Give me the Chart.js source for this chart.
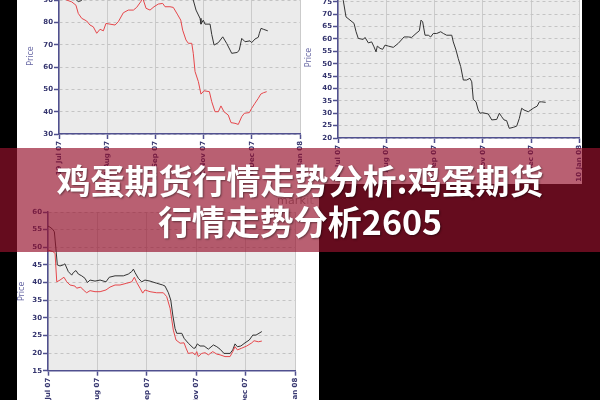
<!DOCTYPE html>
<html><head><meta charset="utf-8">
<script src="https://cdn.jsdelivr.net/npm/chart.js@4"></script>
<style>
html,body{margin:0;padding:0;width:600px;height:400px;overflow:hidden;background:#000;}
#stage{position:relative;width:600px;height:400px;overflow:hidden;background:#000;}
.panel{position:absolute;background:#fff;}
canvas{position:absolute;}
#wm{position:absolute;left:277px;top:194px;font:11px 'DejaVu Sans',sans-serif;color:#8e8e8e;letter-spacing:0.2px;}
#wm span{color:#c8c8c8;}
#banner{position:absolute;left:0;top:148px;width:600px;height:104px;background:rgba(151,18,45,0.67);display:flex;flex-direction:column;align-items:center;justify-content:center;}
.t{color:#fff;font-family:'Noto Sans CJK SC','Noto Sans CJK JP',sans-serif;font-weight:700;font-size:34px;line-height:41px;white-space:nowrap;text-shadow:1px 1px 2px rgba(0,0,0,.45);}
</style></head>
<body><div id="stage">
<div class="panel" style="left:17px;top:0;width:565px;height:184px;"></div>
<div class="panel" style="left:17px;top:184px;width:302px;height:216px;"></div>
<canvas id="c1" width="303" height="224" style="left:17px;top:-40px;"></canvas>
<canvas id="c2" width="300" height="214" style="left:300px;top:-30px;"></canvas>
<canvas id="c3" width="303" height="216" style="left:17px;top:184px;"></canvas>
<div id="wm">mark<span>it</span></div>
<div id="banner"><div class="t">鸡蛋期货行情走势分析:鸡蛋期货</div><div class="t">行情走势分析2605</div></div>
</div>
<script>
// x-axis tick positions (days since 19 Jul 07) and labels
const xTickDays = [0, 35, 70, 105, 140, 175];
const xLabels = ["19 Jul 07", "23 Aug 07", "27 Sep 07", "1 Nov 07", "6 Dec 07", "10 Jan 08"];

// Top-left panel
const tlBlackDays = [0,4,8,12,14,16,18,22,30,45,60,75,88,94,97.5,99.5,102.4,103.1,104.8,106,109.7,110.9,112.6,115.7,118.9,121.8,124.2,125.4,129.5,130.9,132.7,135.1,138.7,139.9,142.3,144.7,145.5,146.7,148.4,151.6];
const tlBlackVals = [96,94,92,90.5,89.4,89.8,91,93,95,97,99,98,96,93,90.1,85.6,81.9,79.3,81.1,79.3,79.3,74.7,69.9,71,73.6,70.6,67.7,66.2,66.6,67.7,72.9,71.4,71.8,71,72.6,73.4,75.2,77.4,77,76.3];
const tlRedDays = [0,3,5.6,9.2,12.3,14,16.5,20.1,22.5,24.9,27.4,29.8,32.2,34.1,37,40.7,43.1,46.7,50.3,54,56.4,59.3,60.8,63.2,66.1,69,72.1,75.3,77,80.6,83,85.9,88.4,89.8,92.2,93.9,96.4,97.5,98.8,101.2,103.1,105.3,109.2,110.9,113.3,115.7,117.6,119.8,122.9,124.9,127.8,130.2,132.7,134.6,138.2,139.9,142.3,144.7,146.5,148.4,150.8];
const tlRedVals = [92,91,90.1,89.3,87.8,84.1,81.9,80.7,78.9,78.1,75.2,77,76.3,79.6,79.3,78.9,80.4,84.4,85.6,85.6,86.8,89.3,91,86.4,85.6,87.1,88.3,88.6,87.1,87.1,86.8,83.8,81.1,76.6,72.2,70.7,70.7,66.2,58,53.5,47.9,49.4,49,44.5,40,40,42.6,40,38.5,35.1,34.8,34.3,37.8,39.3,39.6,41.5,43.8,46,47.9,48.5,49];

// Top-right panel
const trDays = [0,2,3.8,5.8,8.7,11.6,13.1,14.7,18.3,19.6,22,24.4,26.1,27.6,28.5,30.5,32.4,34.1,36.5,40.1,43.7,47.9,51,53.4,56.6,59,60.2,61.4,63.1,65.5,67.2,69.1,71.6,74.5,76.4,78.8,82.5,83.6,85.6,87.2,89,90.9,93.3,95.7,97,98.1,100.1,101.7,103,104.9,109,111.5,115.1,117,118.7,120.4,122.3,124.2,127.1,129.6,131.5,133.2,134.9,138,141.6,144.5,146,147.7,150.6];
const trVals = [82,79,75.6,68.9,67.6,66.3,62.9,60.2,59.8,60.6,58.4,58.8,56.8,54.8,57.1,56.2,55.8,57.5,57.1,56.6,58.2,60.8,60.8,60.6,62.2,63.3,67.6,66.9,61.5,61.5,60.8,62.2,62.2,62.9,62.2,61.5,61.5,58.8,55.5,52.1,48.8,43.4,43.4,44.1,42.7,35.6,34.6,31.3,30,30.2,29.7,27.3,27.5,30,28.6,27.3,27,23.9,24.3,24.8,27.9,32,31.3,30.6,32,32.9,34.6,34.6,34.4];

// Bottom-left panel
const blBlackDays = [0,1.4,3.3,4.5,5.7,6.6,8.5,10.8,12,14.4,16.8,17.9,19.8,21.5,23.9,26.2,27.9,29.8,33.3,36.9,41.1,43.4,47.5,53.4,56.9,59.3,60.5,61.7,64,66.4,68.7,72.3,77,81.3,82.9,85.3,87,88.4,90,91.2,94.8,96.4,99.4,103,104.2,105.8,107.7,110.6,113.6,117.2,119.6,121.9,124.7,129,130.9,132.5,134.2,136.6,139.6,142.6,145.1,147.4,151.5];
const blBlackVals = [56,55.7,55.1,54.4,49.2,45,44.7,45,45.3,43.1,42.1,42.8,43.4,42.4,41.9,41.2,40,40.7,40.4,40.7,40.2,41.5,41.9,41.9,42.4,43.1,43.8,42.8,41.2,40.2,40.7,40.4,39.8,39.3,39,37.1,35,30.8,27,25.6,25.6,24.2,22.8,21.4,21.4,22.6,22,22,21.1,22.3,21.8,21.1,19.9,19.9,20.9,22.6,21.8,22,22.9,23.7,25.1,25.1,26.1];
const blRedDays = [0,3.3,5,6.2,8.5,11.3,13.3,15.6,19.1,20.3,23.2,25,27.4,29.8,33.3,36.9,41.1,43.9,47.5,51,55.8,59.3,61.2,62.9,65.2,67.1,68.7,72.3,77,81.7,84.1,86.5,88.8,90.7,93.6,96.4,97.8,99.4,102.6,104.2,105.4,106.5,108.9,111.3,113.6,116.7,119.6,121.9,125.4,129,130.9,132.5,134.2,137.3,140.8,144.4,146,149,151.5];
const blRedVals = [49.2,48.8,48.3,40.2,40.7,41.5,40.2,39.3,39,38.4,38.7,37.9,37.1,37.7,37.4,37.4,37.9,38.7,39.3,39.3,39.8,40.2,41.5,40,38.4,37,37.9,37.4,37.1,37.1,36,32.7,26.5,23.7,22.8,22.9,21.4,19.9,20.1,19.5,20.4,19,19.9,20.1,19.5,20.4,19.7,19.5,19,19,20.4,21.8,20.9,21.4,22,22.9,23.5,23.2,23.4];

const axisColor = '#50508f';
const axisText = '#34346e';
const tickFont = {size: 7, family: 'DejaVu Sans', weight: 'bold'};

const plotBg = {id: 'plotBg', beforeDraw(chart) {
  const {ctx, chartArea: a} = chart;
  ctx.save(); ctx.fillStyle = '#ebebeb';
  ctx.fillRect(a.left, a.top, a.right - a.left, a.bottom - a.top);
  ctx.restore();
}};

function pts(days, vals) { return days.map((d, i) => ({x: d, y: vals[i]})); }
function ds(days, vals, color) {
  return {data: pts(days, vals), borderColor: color, borderWidth: 1, pointRadius: 0, tension: 0, fill: false};
}

function makeChart(id, datasets, y, xh, pad) {
  new Chart(document.getElementById(id), {
    type: 'line',
    data: {datasets},
    plugins: [plotBg],
    options: {
      responsive: false, animation: false, events: [],
      layout: {padding: pad},
      plugins: {legend: {display: false}, tooltip: {enabled: false}},
      scales: {
        x: {
          type: 'linear', min: 0, max: 175,
          afterBuildTicks: s => { s.ticks = xTickDays.map(v => ({value: v})); },
          ticks: {autoSkip: false, minRotation: 90, maxRotation: 90, padding: 2, color: axisText, font: tickFont,
                  callback: (v, i) => xLabels[i]},
          grid: {color: '#cbcbcb', lineWidth: 1, tickLength: 5, tickColor: axisColor, tickWidth: 1.5},
          border: {color: axisColor, width: 1.5},
          afterFit: s => { s.height = xh; }
        },
        y: {
          type: 'linear', min: y.min, max: y.max,
          ticks: {stepSize: y.step, padding: 1, color: axisText, font: tickFont},
          grid: {color: '#c4c4c4', lineWidth: 1, tickLength: 5, tickColor: axisColor, tickWidth: 1.5},
          border: {color: axisColor, width: 1.5, dash: [3, 3]},
          title: {display: true, text: 'Price', color: '#6868a4', font: {size: 8, family: 'DejaVu Sans'}, padding: {top: y.tp, bottom: 0}},
          afterFit: s => { s.width = y.w; }
        }
      }
    }
  });
}

makeChart('c1', [ds(tlRedDays, tlRedVals, '#e6474b'), ds(tlBlackDays, tlBlackVals, '#333333')],
  {min: 30, max: 100, step: 10, w: 42, tp: 9}, 50, {left: 0, top: 18, right: 20, bottom: 0});
makeChart('c2', [ds(trDays, trVals, '#333333')],
  {min: 20, max: 85, step: 5, w: 38, tp: 4}, 46, {left: 0, top: 7, right: 20.7, bottom: 0});
makeChart('c3', [ds(blRedDays, blRedVals, '#e6474b'), ds(blBlackDays, blBlackVals, '#333333')],
  {min: 15, max: 60, step: 5, w: 31, tp: 0}, 29.3, {left: 0, top: 28, right: 25, bottom: 0});
</script>
</body></html>
